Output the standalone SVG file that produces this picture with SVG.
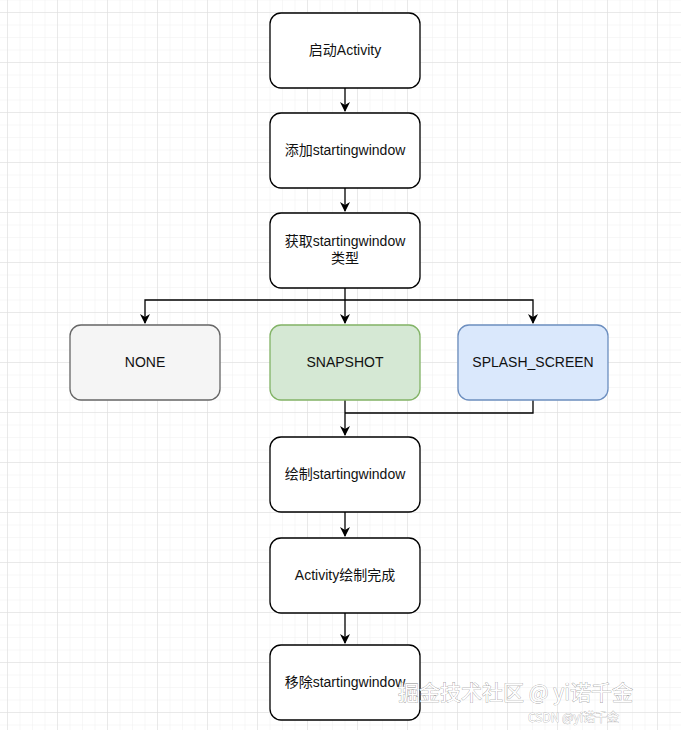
<svg xmlns="http://www.w3.org/2000/svg" width="681" height="730" viewBox="0 0 681 730">
<defs>
<pattern id="minor" x="7" y="12" width="12.5" height="12.5" patternUnits="userSpaceOnUse"><path d="M0 0H12.5M0 0V12.5" fill="none" stroke="#f0f0f0" stroke-width="1"/></pattern>
<pattern id="major" x="7" y="12" width="50" height="50" patternUnits="userSpaceOnUse"><path d="M0 0H50M0 0V50" fill="none" stroke="#dcdcdc" stroke-width="1"/></pattern>
<marker id="arr" viewBox="0 0 10 10" refX="9" refY="5" markerWidth="10" markerHeight="10" markerUnits="userSpaceOnUse" orient="auto"><path d="M0 0L10 5L0 10L3 5Z" fill="#000"/></marker>
</defs>
<style>
.n{fill:#fff;stroke:#000;stroke-width:1.3}
.t{font-family:"Liberation Sans","Noto Sans CJK SC",sans-serif;font-size:14px;text-anchor:middle;fill:#111}
.c{fill:none;stroke:#000;stroke-width:1.3}
</style>
<rect width="681" height="730" fill="#fff"/>
<rect width="681" height="730" fill="url(#minor)"/>
<rect width="681" height="730" fill="url(#major)"/>
<g id="connectors">
<path class="c" d="M345 88V111" marker-end="url(#arr)"/>
<path class="c" d="M345 188V211" marker-end="url(#arr)"/>
<path class="c" d="M345 288V323" marker-end="url(#arr)"/>
<path class="c" d="M345 300H145V323" marker-end="url(#arr)"/>
<path class="c" d="M345 300H533V323" marker-end="url(#arr)"/>
<path class="c" d="M345 400V435" marker-end="url(#arr)"/>
<path class="c" d="M533 400V413H345"/>
<path class="c" d="M345 512V536" marker-end="url(#arr)"/>
<path class="c" d="M345 613V643" marker-end="url(#arr)"/>
</g>
<g id="n1"><rect class="n" x="270" y="13" width="150" height="75" rx="11"/><text class="t" x="345" y="55">启动Activity</text></g>
<g id="n2"><rect class="n" x="270" y="113" width="150" height="75" rx="11"/><text class="t" x="345" y="155">添加startingwindow</text></g>
<g id="n3"><rect class="n" x="270" y="213" width="150" height="75" rx="11"/><text class="t" x="345" y="246">获取startingwindow</text><text class="t" x="345" y="263">类型</text></g>
<g id="none"><rect x="70" y="325" width="150" height="75" rx="11" fill="#f5f5f5" stroke="#666" stroke-width="1.3"/><text class="t" x="145" y="367" fill="#333">NONE</text></g>
<g id="snap"><rect x="270" y="325" width="150" height="75" rx="11" fill="#d5e8d4" stroke="#82b366" stroke-width="1.3"/><text class="t" x="345" y="367">SNAPSHOT</text></g>
<g id="splash"><rect x="458" y="325" width="150" height="75" rx="11" fill="#dae8fc" stroke="#6c8ebf" stroke-width="1.3"/><text class="t" x="533" y="367">SPLASH_SCREEN</text></g>
<g id="n4"><rect class="n" x="270" y="437" width="150" height="75" rx="11"/><text class="t" x="345" y="479">绘制startingwindow</text></g>
<g id="n5"><rect class="n" x="270" y="538" width="150" height="75" rx="11"/><text class="t" x="345" y="580">Activity绘制完成</text></g>
<g id="n6"><rect class="n" x="270" y="645" width="150" height="75" rx="11"/><text class="t" x="345" y="687">移除startingwindow</text></g>
<g id="watermark" font-family="'Noto Sans CJK SC',sans-serif">
<text x="398" y="700" font-size="21" fill="#fff" stroke="#888" stroke-width="0.6" paint-order="stroke">掘金技术社区 @ yi诺千金</text>
<text x="528" y="722" font-size="12" fill="#fff" stroke="#999" stroke-width="0.5" paint-order="stroke">CSDN @yi诺千金</text>
</g>
</svg>
